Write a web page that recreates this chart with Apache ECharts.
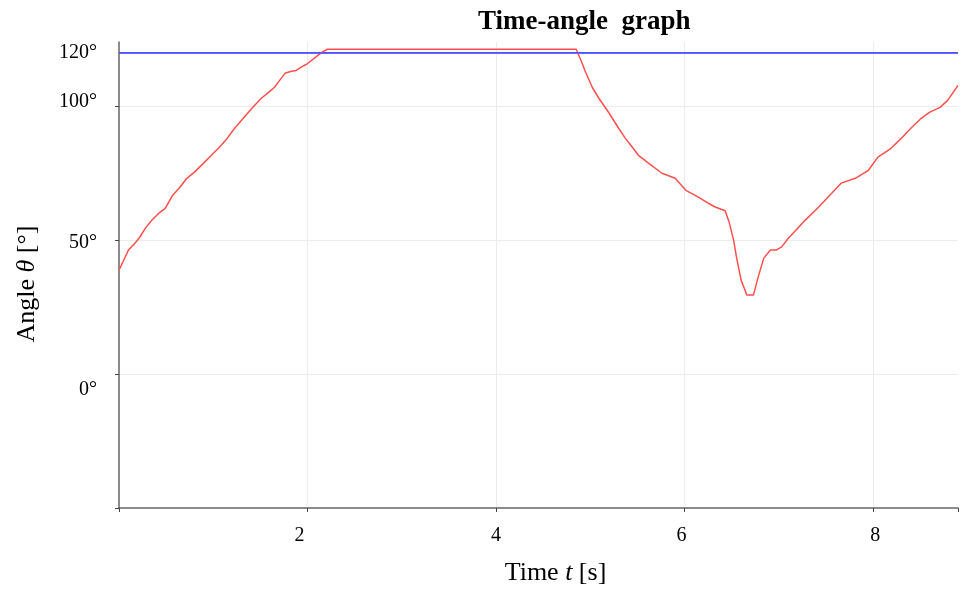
<!DOCTYPE html>
<html>
<head>
<meta charset="utf-8">
<script src="https://cdn.jsdelivr.net/npm/echarts@6/dist/echarts.min.js"></script>
<style>html,body{margin:0;padding:0;background:#fff;overflow:hidden}#c{width:961px;height:594px}</style>
</head>
<body>
<div id="c"></div>
<script>
// Data
const times = [0, 0.05, 0.1, 0.16, 0.22, 0.28, 0.35, 0.42, 0.49, 0.57, 0.64, 0.72, 0.80, 0.89, 0.98, 1.06, 1.15, 1.22, 1.30, 1.41, 1.51, 1.58, 1.65, 1.70, 1.76, 1.82, 1.88, 1.94, 1.99, 2.07, 2.15, 2.21,
  4.85, 4.90, 4.95, 5.02, 5.09, 5.20, 5.30, 5.37, 5.44, 5.51, 5.62, 5.76, 5.90, 6.01, 6.15, 6.25, 6.33, 6.43, 6.47, 6.52, 6.55, 6.60, 6.66, 6.73, 6.78, 6.84, 6.91, 6.97, 7.03, 7.10, 7.19, 7.28, 7.42, 7.56, 7.66, 7.81, 7.95, 8.05, 8.19, 8.30, 8.40, 8.51, 8.60, 8.71, 8.79, 8.90];
const angles = [38.8, 42.5, 46.3, 48.5, 51.1, 54.5, 57.5, 60.0, 61.9, 66.8, 69.5, 73.1, 75.4, 78.5, 81.7, 84.5, 88.1, 91.5, 94.8, 99.3, 103.0, 105.0, 107.1, 109.5, 112.3, 113.0, 113.4, 114.8, 115.7, 117.9, 120.1, 121.3,
  121.3, 117.2, 112.7, 107.1, 103.0, 97.4, 91.8, 88.1, 85.0, 81.7, 78.7, 75.0, 73.1, 68.7, 66.0, 63.8, 62.3, 61.0, 57.0, 50.0, 43.7, 35.0, 29.5, 29.5, 36.2, 43.3, 46.3, 46.3, 47.5, 50.7, 54.1, 57.5, 62.3, 67.5, 71.3, 73.1, 76.1, 81.0, 84.3, 88.1, 91.8, 95.5, 97.8, 99.6, 102.2, 107.8];
const refAngle = 120;
const xTicks = [2, 4, 6, 8];
const yTicks = [0, 50, 100];

const serif = '"Liberation Serif", "Times New Roman", serif';
const chart = echarts.init(document.getElementById('c'), null, {renderer: 'canvas'});
const tMax = times[times.length - 1];

chart.setOption({
  animation: false,
  backgroundColor: '#fff',
  title: {
    text: 'Time-angle  graph',
    left: 473, top: 4,
    textStyle: {fontFamily: serif, fontSize: 27, fontWeight: 'bold', color: '#000'}
  },
  grid: {left: 119, width: 843, top: 42, bottom: 86, containLabel: false},
  xAxis: {
    type: 'value', min: 0, max: tMax, interval: 2,
    name: '{a|Time }{b|t}{a| [s]}',
    nameLocation: 'middle', nameGap: 52,
    nameTextStyle: {padding: [0, 0, 0, 34], rich: {
      a: {fontFamily: serif, fontSize: 26, color: '#000'},
      b: {fontFamily: serif, fontSize: 26, fontStyle: 'italic', color: '#000'}
    }},
    axisLine: {onZero: false, lineStyle: {color: '#666', width: 1.5}},
    axisTick: {show: true, length: 4, lineStyle: {color: '#444'}},
    axisLabel: {
      margin: 18, fontFamily: serif, fontSize: 20, color: '#000',
      formatter: v => {
        if (!xTicks.includes(v)) return '';
        if (v === 2) return '{l|' + v + '}';
        if (v === 6) return '{m|' + v + '}';
        if (v === 8) return '{r|' + v + '}';
        return String(v);
      },
      rich: {
        l: {fontFamily: serif, fontSize: 20, color: '#000', padding: [0, 16, 0, 0]},
        m: {fontFamily: serif, fontSize: 20, color: '#000', padding: [0, 6, 0, 0]},
        r: {fontFamily: serif, fontSize: 20, color: '#000', padding: [0, 0, 0, 4]}
      }
    },
    splitLine: {show: true, showMinLine: false, showMaxLine: false, lineStyle: {color: '#ececec', width: 1}}
  },
  yAxis: {
    type: 'value', min: -50, max: 124, interval: 50,
    name: '{a|Angle }{b|θ}{a| [°]}',
    nameLocation: 'middle', nameGap: 79, nameRotate: 90,
    nameTextStyle: {padding: [0, 18, 0, 0], rich: {
      a: {fontFamily: serif, fontSize: 26, color: '#000'},
      b: {fontFamily: serif, fontSize: 26, fontStyle: 'italic', color: '#000'}
    }},
    axisLine: {show: true, onZero: false, lineStyle: {color: '#666', width: 1.5}},
    axisTick: {show: true, length: 4, lineStyle: {color: '#444'}},
    axisLabel: {
      margin: 22, fontFamily: serif, fontSize: 20, color: '#000',
      showMaxLabel: false,
      formatter: v => {
        if (!yTicks.includes(v)) return '';
        if (v === 100) return '{u|' + v + '°}';
        if (v === 50) return '{d1|' + v + '°}';
        if (v === 0) return '{d2|' + v + '°}';
        return v + '°';
      },
      rich: {
        u: {fontFamily: serif, fontSize: 20, color: '#000', padding: [0, 0, 10, 0]},
        d1: {fontFamily: serif, fontSize: 20, color: '#000', padding: [6, 0, 0, 0]},
        d2: {fontFamily: serif, fontSize: 20, color: '#000', padding: [32, 0, 0, 0]}
      }
    },
    splitLine: {show: true, showMinLine: false, showMaxLine: false, lineStyle: {color: '#ececec', width: 1}}
  },
  series: [
    {
      name: 'reference', type: 'line', showSymbol: false, symbol: 'none',
      data: times.map(t => [t, refAngle]),
      lineStyle: {color: '#5252ff', width: 1.5},
      z: 2,
      markLine: {
        silent: true, symbol: 'none',
        lineStyle: {color: '#5252ff', width: 1.5, type: 'solid'},
        label: {show: true, position: 'start', distance: 22, formatter: refAngle + '°',
          fontFamily: serif, fontSize: 20, color: '#000'},
        data: [{yAxis: refAngle}]
      }
    },
    {
      name: 'angle', type: 'line', showSymbol: false, symbol: 'none',
      data: times.map((t, i) => [t, angles[i]]),
      lineStyle: {color: '#ff4f4f', width: 1.5},
      z: 3
    }
  ]
});
</script>
</body>
</html>
